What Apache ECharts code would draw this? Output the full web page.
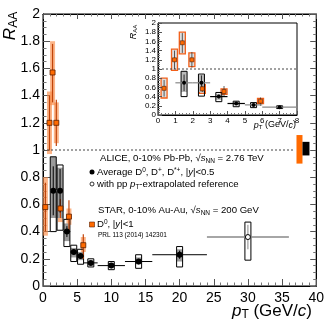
<!DOCTYPE html>
<html>
<head>
<meta charset="utf-8">
<script src="https://cdn.jsdelivr.net/npm/echarts@6/dist/echarts.min.js"></script>
<style>
html, body { margin: 0; padding: 0; background: #fff; }
#main { width: 327px; height: 327px; }
</style>
</head>
<body>
<div id="main"></div>
<script>
// ALICE average D0, D+, D*+ (0-10% Pb-Pb)
var ptAlice = [1.5, 2.5, 3.5, 4.5, 5.5, 7, 10, 14, 20];
var ptAliceLo = [1, 2, 3, 4, 5, 6, 8, 12, 16];
var ptAliceHi = [2, 3, 4, 5, 6, 8, 12, 16, 24];
var raaAlice = [0.70, 0.70, 0.40, 0.25, 0.22, 0.17, 0.15, 0.18, 0.23];
var statAliceLo = [0.52, 0.54, 0.36, 0.23, 0.20, 0.16, 0.13, 0.16, 0.20];
var statAliceHi = [0.88, 0.86, 0.44, 0.27, 0.24, 0.18, 0.17, 0.20, 0.26];
var sysAliceLo = [0.40, 0.41, 0.29, 0.18, 0.16, 0.14, 0.12, 0.13, 0.14];
var sysAliceHi = [0.95, 0.89, 0.49, 0.30, 0.27, 0.20, 0.18, 0.23, 0.29];
var fdAliceLo = [0.50, 0.50, 0.33, 0.21, 0.19, 0.155, 0.14, 0.16, 0.18];
var fdAliceHi = [0.95, 0.87, 0.46, 0.28, 0.25, 0.185, 0.17, 0.21, 0.27];

// ALICE point with pT-extrapolated pp reference
var ptExt = [30];
var ptExtLo = [24];
var ptExtHi = [36];
var raaExt = [0.36];
var statExtLo = [0.27];
var statExtHi = [0.45];
var sysExtLo = [0.19];
var sysExtHi = [0.47];

// STAR D0 (0-10% Au-Au)
var ptStar = [0.35, 0.95, 1.4, 1.95, 2.55, 3.8, 5.9];
var raaStar = [0.58, 1.20, 1.57, 1.20, 0.57, 0.51, 0.30];
var statStarLo = [0.40, 1.00, 1.35, 1.03, 0.50, 0.41, 0.20];
var statStarHi = [0.76, 1.40, 1.78, 1.37, 0.64, 0.63, 0.38];
var sysStarLo = [0.37, 0.97, 1.33, 1.05, 0.47, 0.45, 0.25];
var sysStarHi = [0.80, 1.43, 1.80, 1.35, 0.66, 0.57, 0.36];

// normalisation uncertainties at RAA = 1
var normStarX = [37.55];
var normStarLo = [0.90];
var normStarHi = [1.11];
var normAliceX = [38.5];
var normAliceLo = [0.96];
var normAliceHi = [1.06];

// reference line RAA = 1
var refMain = [[0, 1], [36.9, 1]];
var refInset = [[0, 1], [8, 1]];

var FONT = 'Liberation Sans';
var ORANGE = '#f2601a';

var myChart = echarts.init(document.getElementById('main'));

function zip3(a, b, c) {
    return a.map(function (v, i) { return [v, b[i], c[i]]; });
}

// rectangle from lo to hi at x, fixed pixel width
function boxes(ax, xs, lo, hi, w, style) {
    return {
        type: 'custom', xAxisIndex: ax, yAxisIndex: ax, silent: true, z: ax ? 12 : 2,
        data: zip3(xs, lo, hi),
        renderItem: function (params, api) {
            var top = api.coord([api.value(0), api.value(2)]);
            var bot = api.coord([api.value(0), api.value(1)]);
            return {
                type: 'rect',
                shape: { x: top[0] - w / 2, y: top[1], width: w, height: bot[1] - top[1] },
                style: style
            };
        }
    };
}

function vbars(ax, xs, lo, hi, color, lw) {
    return {
        type: 'custom', xAxisIndex: ax, yAxisIndex: ax, silent: true, z: ax ? 13 : 3,
        data: zip3(xs, lo, hi),
        renderItem: function (params, api) {
            var a = api.coord([api.value(0), api.value(1)]);
            var b = api.coord([api.value(0), api.value(2)]);
            return { type: 'line', shape: { x1: a[0], y1: a[1], x2: b[0], y2: b[1] },
                     style: { stroke: color, lineWidth: lw } };
        }
    };
}

function hbars(ax, lo, hi, ys, colorFn, lw) {
    return {
        type: 'custom', xAxisIndex: ax, yAxisIndex: ax, silent: true, z: ax ? 13 : 3,
        data: zip3(lo, hi, ys),
        renderItem: function (params, api) {
            var a = api.coord([api.value(0), api.value(2)]);
            var b = api.coord([api.value(1), api.value(2)]);
            return { type: 'line', shape: { x1: a[0], y1: a[1], x2: b[0], y2: b[1] },
                     style: { stroke: colorFn(api.value(0)), lineWidth: lw } };
        }
    };
}

function pts(ax, xs, ys, symbol, size, color, border, bw) {
    return {
        type: 'scatter', xAxisIndex: ax, yAxisIndex: ax, silent: true,
        symbol: symbol, symbolSize: size,
        itemStyle: { color: color, borderColor: border, borderWidth: bw, opacity: 1 },
        data: xs.map(function (x, i) { return [x, ys[i]]; }),
        z: ax ? 15 : 5
    };
}

function xAx(grid, max, pos, showLabel, fs, tickLen) {
    return {
        gridIndex: grid, type: 'value', min: 0, max: max, interval: max === 40 ? 5 : 1,
        position: pos, z: grid ? 14 : 0,
        axisLine: { show: true, onZero: false, lineStyle: { color: '#000', width: 1 } },
        axisTick: { show: true, inside: true, length: tickLen, lineStyle: { color: '#555' } },
        minorTick: { show: true, splitNumber: 5, length: tickLen / 2, lineStyle: { color: '#777' } },
        axisLabel: { show: showLabel, fontSize: fs, color: '#000', fontFamily: FONT, margin: grid === 0 ? 5 : 2 },
        splitLine: { show: false }
    };
}

function yAx(grid, pos, showLabel, fs, tickLen) {
    return {
        gridIndex: grid, type: 'value', min: 0, max: 2, interval: 0.2,
        position: pos, z: grid ? 14 : 0,
        axisLine: { show: true, onZero: false, lineStyle: { color: '#000', width: 1 } },
        axisTick: { show: true, inside: true, length: tickLen, lineStyle: { color: '#555' } },
        minorTick: { show: true, splitNumber: 4, length: tickLen / 2, lineStyle: { color: '#777' } },
        axisLabel: { show: showLabel, fontSize: fs, color: '#000', fontFamily: FONT, margin: grid === 0 ? 3 : 2,
                     formatter: function (v) { return String(Math.round(v * 10) / 10); } },
        splitLine: { show: false }
    };
}

function grayIfWide(x) { return (x < 2.5 || x >= 24) ? '#888' : '#000'; }
function grayInset(x) { return (x < 2.5 || x >= 5) ? '#888' : '#000'; }

var series = [
    // main panel
    { type: 'line', xAxisIndex: 0, yAxisIndex: 0, data: refMain, symbol: 'none', silent: true,
      lineStyle: { color: '#444', width: 1, type: [2, 2] } },
    boxes(0, normStarX, normStarLo, normStarHi, 6, { fill: '#ff6a00' }),
    boxes(0, normAliceX, normAliceLo, normAliceHi, 7, { fill: '#000' }),
    boxes(0, ptStar, sysStarLo, sysStarHi, 5, { fill: 'rgba(250,140,70,0.65)' }),
    vbars(0, ptStar, statStarLo, statStarHi, '#c0440a', 1.2),
    boxes(0, ptAlice, fdAliceLo, fdAliceHi, 6, { fill: '#9a9a9a' }),
    boxes(0, ptAlice, sysAliceLo, sysAliceHi, 6, { fill: 'none', stroke: '#000', lineWidth: 1 }),
    boxes(0, ptExt, sysExtLo, sysExtHi, 6, { fill: '#fff', stroke: '#000', lineWidth: 1 }),
    vbars(0, ptAlice, statAliceLo, statAliceHi, '#000', 1),
    vbars(0, ptExt, statExtLo, statExtHi, '#888', 1),
    hbars(0, ptAliceLo, ptAliceHi, raaAlice, grayIfWide, 1),
    hbars(0, ptExtLo, ptExtHi, raaExt, grayIfWide, 1.5),
    pts(0, ptStar, raaStar, 'rect', 5, '#ff6a00', '#5a2000', 0.8),
    pts(0, ptAlice, raaAlice, 'circle', 6, '#000', '#000', 0),
    pts(0, ptExt, raaExt, 'circle', 5, '#fff', '#000', 1),
    // inset
    { type: 'line', xAxisIndex: 2, yAxisIndex: 2, data: refInset, symbol: 'none', silent: true, z: 12,
      lineStyle: { color: '#444', width: 1, type: [2, 2] } },
    boxes(2, ptStar, sysStarLo, sysStarHi, 6, { fill: 'rgba(200,200,200,0.6)', stroke: ORANGE, lineWidth: 1.3 }),
    vbars(2, ptStar, statStarLo, statStarHi, '#333', 0.8),
    boxes(2, ptAlice.slice(0, 6), fdAliceLo.slice(0, 6), fdAliceHi.slice(0, 6), 6, { fill: '#bbb' }),
    boxes(2, ptAlice.slice(0, 6), sysAliceLo.slice(0, 6), sysAliceHi.slice(0, 6), 6, { fill: 'none', stroke: '#000', lineWidth: 1 }),
    vbars(2, ptAlice.slice(0, 6), statAliceLo.slice(0, 6), statAliceHi.slice(0, 6), '#000', 0.8),
    hbars(2, ptAliceLo.slice(0, 6), ptAliceHi.slice(0, 6), raaAlice.slice(0, 6), grayInset, 1.2),
    pts(2, ptStar, raaStar, 'rect', 4, '#ff6a00', '#5a2000', 0.6),
    pts(2, ptAlice.slice(0, 6), raaAlice.slice(0, 6), 'circle', 4, '#000', '#000', 0)
];

var rich = {
    b: { fontSize: 9.6, fontFamily: FONT, color: '#000' },
    i: { fontSize: 9.6, fontFamily: FONT, fontStyle: 'italic', color: '#000' },
    sub: { fontSize: 6.5, fontFamily: FONT, color: '#000', verticalAlign: 'bottom', padding: [6, 0, 0, 0] },
    sup: { fontSize: 6.5, fontFamily: FONT, color: '#000', verticalAlign: 'top', padding: [0, 0, 4, 0] },
    sm: { fontSize: 6.5, fontFamily: FONT, color: '#000' },
    big: { fontSize: 17, fontFamily: FONT, color: '#000' },
    bigi: { fontSize: 17, fontFamily: FONT, fontStyle: 'italic', color: '#000' },
    bigsub: { fontSize: 12, fontFamily: FONT, color: '#000', verticalAlign: 'bottom', padding: [8, 0, 0, 0] },
    mid: { fontSize: 9, fontFamily: FONT, color: '#000' },
    midi: { fontSize: 9, fontFamily: FONT, fontStyle: 'italic', color: '#000' },
    midsub: { fontSize: 6, fontFamily: FONT, color: '#000', verticalAlign: 'bottom', padding: [4, 0, 0, 0] }
};

function txt(x, y, s, align, rot) {
    return { type: 'text', x: x, y: y, rotation: rot || 0, z: 20,
             style: { text: s, rich: rich, align: align || 'left', verticalAlign: 'middle' } };
}

myChart.setOption({
    animation: false,
    backgroundColor: '#fff',
    grid: [
        { left: 43, top: 14, right: 9, bottom: 41, show: true, borderColor: '#000', borderWidth: 1 },
        { left: 158, top: 23, width: 139, height: 92, show: true, borderColor: '#000', borderWidth: 1,
          backgroundColor: '#fff', z: 10 }
    ],
    xAxis: [
        xAx(0, 40, 'bottom', true, 14, 7),
        xAx(0, 40, 'top', false, 14, 5),
        xAx(1, 8, 'bottom', true, 8, 4)
    ],
    yAxis: [
        yAx(0, 'left', true, 14, 7),
        yAx(0, 'right', false, 14, 6),
        yAx(1, 'left', true, 8, 4)
    ],
    series: series,
    graphic: [
        txt(10, 26, '{bigi|R}{bigsub|AA}', 'center', Math.PI / 2),
        txt(312, 311, '{bigi|p}{bigsub|T}{big| (GeV/}{bigi|c}{big|)}', 'right'),
        txt(133, 32, '{midi|R}{midsub|AA}', 'center', Math.PI / 2),
        txt(296, 125, '{midi|p}{midsub|T}{mid| (GeV/}{midi|c}{mid|)}', 'right'),
        txt(100, 158, '{b|ALICE, 0-10% Pb-Pb, √}{i|s}{sub|NN}{b| = 2.76 TeV}'),
        txt(97, 172, '{b|Average D}{sup|0}{b|, D}{sup|+}{b|, D}{sup|*+}{b|, |}{i|y}{b||<0.5}'),
        txt(97, 184, '{b|with pp }{i|p}{sub|T}{b|-extrapolated reference}'),
        txt(98, 210, '{b|STAR, 0-10% Au-Au, √}{i|s}{sub|NN}{b| = 200 GeV}'),
        txt(97, 224, '{b|D}{sup|0}{b|, |}{i|y}{b||<1}'),
        txt(98, 235, '{sm|PRL 113 (2014) 142301}'),
        { type: 'circle', shape: { cx: 92, cy: 172, r: 2.5 }, style: { fill: '#000' }, z: 20 },
        { type: 'circle', shape: { cx: 92, cy: 184, r: 2 }, style: { fill: '#fff', stroke: '#000', lineWidth: 0.8 }, z: 20 },
        { type: 'rect', shape: { x: 89.5, y: 222, width: 5, height: 5 }, style: { fill: '#ff6a00', stroke: '#5a2000', lineWidth: 0.6 }, z: 20 }
    ]
});
</script>
</body>
</html>
